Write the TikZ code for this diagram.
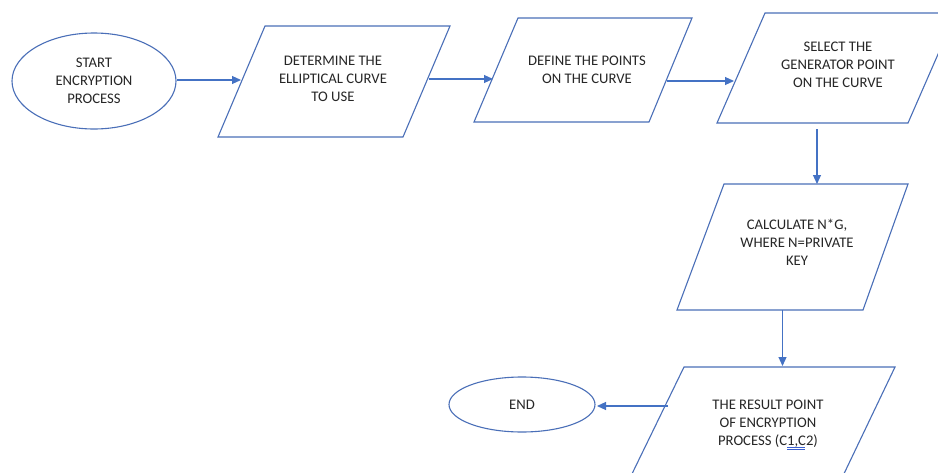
\documentclass[tikz,border=0pt]{standalone}
\usepackage{fontspec}
\setmainfont{Carlito}
\usetikzlibrary{shapes.geometric,arrows.meta}
\definecolor{edgec}{HTML}{4A6FB8}
\definecolor{arrowc}{HTML}{4472C4}
\definecolor{txtc}{HTML}{262626}
\definecolor{markc}{HTML}{3A5FD0}
\tikzset{
  lbl/.style={font=\fontsize{14.67}{18}\selectfont, align=center, text=txtc, inner sep=0pt},
  box/.style={draw=edgec, line width=1.1pt, line join=miter},
  oval/.style={ellipse, draw=edgec, line width=1.1pt, inner sep=0pt, font=\fontsize{14.67}{18}\selectfont, align=center, text=txtc},
  conn/.style={draw=arrowc, line width=1.1pt, -{Triangle[length=9pt,width=8pt]}}
}
\begin{document}
\begin{tikzpicture}[x=1pt,y=-1pt]
\useasboundingbox (0,0) rectangle (938,472);
\clip (0,0) rectangle (938,472);
\fill[white] (0,0) rectangle (938,472);

% start ellipse
\node[oval, minimum width=164pt, minimum height=96pt] (start) at (94,81) {START\\ENCRYPTION\\PROCESS};

% parallelogram 1
\draw[box] (265,26) -- (450,26) -- (403,137) -- (218,137) -- cycle;
\node[lbl] (p1) at (333,79) {DETERMINE THE\\ELLIPTICAL CURVE\\TO USE};

% parallelogram 2
\draw[box] (518,18) -- (692,18) -- (649,122) -- (474,122) -- cycle;
\node[lbl] (p2) at (587,70) {DEFINE THE POINTS\\ON THE CURVE};

% parallelogram 3
\draw[box] (765,13) -- (956,13) -- (908,123) -- (717,123) -- cycle;
\node[lbl] (p3) at (838,65) {SELECT THE\\GENERATOR POINT\\ON THE CURVE};

% parallelogram 4
\draw[box] (724,184) -- (908,184) -- (863,310) -- (677,310) -- cycle;
\node[lbl] (p4) at (797,242) {CALCULATE N*G,\\WHERE N=PRIVATE\\KEY};

% parallelogram 5 (runs past the lower edge)
\draw[box] (684,367) -- (895,367) -- (841,480) -- (629,480) -- cycle;
\node[lbl] (p5) at (768,424) {THE RESULT POINT\\OF ENCRYPTION\\PROCESS (C1,C2)};
\draw[markc, line width=0.6pt] (787,447.5) -- (805,447.5) (787,449.5) -- (805,449.5);

% end ellipse
\node[oval, minimum width=146pt, minimum height=55pt] (end) at (522,404.5) {END};

% connector end points
\coordinate (a1e) at (241,80);
\coordinate (a2s) at (429,79);
\coordinate (a2e) at (493,79);
\coordinate (a3s) at (667,81);
\coordinate (a3e) at (734,81);
\coordinate (a4s) at (817,129);
\coordinate (a4e) at (817,184);
\coordinate (a5s) at (782.5,310);
\coordinate (a5e) at (782.5,366);
\coordinate (a6s) at (668,406);
\coordinate (a6e) at (597,406);

\draw[conn] (start.east |- a1e) -- (a1e);
\draw[conn] (a2s) -- (a2e);
\draw[conn] (a3s) -- (a3e);
\draw[conn] (a4s) -- (a4e);
\draw[conn] (a5s) -- (a5e);
\draw[conn] (a6s) -- (a6e);
\end{tikzpicture}
\end{document}
